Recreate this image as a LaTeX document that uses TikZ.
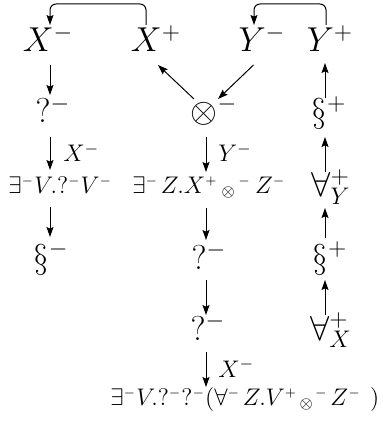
\documentclass[tikz,border=0pt]{standalone}
\usetikzlibrary{arrows.meta,calc}
\newcommand\ssup[1]{^{\scriptscriptstyle #1}}
\newcommand\osub{{}_{\otimes}{}}
\begin{document}
\begin{tikzpicture}[x=0.5pt,y=-0.5pt,
  big/.style={inner sep=0pt, anchor=base, font=\LARGE},
  sml/.style={inner sep=0pt, anchor=base west, font=\large},
  lab/.style={inner sep=0pt, anchor=base west, font=\large},
  arr/.style={-{Stealth[length=5pt,width=3.5pt,inset=0.8pt]}, line width=0.5pt}]
\useasboundingbox (0,0) rectangle (383,422);
\coordinate (cL) at (50,0);
\coordinate (cM) at (206,0);
\coordinate (cR) at (325,0);
% top row
\node[big] (xm) at (48,52) {$X^{-}$};
\node[big] (xp) at (156,52) {$X^{+}$};
\node[big] (ym) at (262,52) {$Y^{-}$};
\node[big] (yp) at (330,52) {$Y^{+}$};
% row 2
\node[big] (q1) at (53,123) {$?^{-}$};
\node[big] (ot) at (214,123) {$\otimes^{-}$};
\node[big] (s1) at (329,123) {$\S^{+}$};
% row 3
\node[sml] (f1) at (8,193) {$\exists\ssup{-}V\mkern-2mu.?\ssup{-}V\ssup{-}$};
\node[sml] (f2) at (132,193) {$\exists\ssup{-}\mkern2mu Z.X\ssup{+}\mkern3mu\osub\mkern2mu\ssup{-}\mkern3mu Z\ssup{-}$};
\node[big] (a1) at (331,197) {$\forall^{+}_{Y}$};
% row 4
\node[big] (s2) at (51,268) {$\S^{-}$};
\node[big] (q2) at (209,269) {$?^{-}$};
\node[big] (s3) at (330,268) {$\S^{+}$};
% row 5
\node[big] (q3) at (208,340) {$?^{-}$};
\node[big] (a2) at (331,340) {$\forall^{+}_{X}$};
% bottom
\node[sml] (f3) at (110,405) {$\exists\ssup{-}V.?\ssup{-}?\ssup{-}(\forall\ssup{-}\mkern2mu Z.V\ssup{+}\mkern2mu\osub\mkern1mu\ssup{-}\mkern2mu Z\ssup{-}\mkern7mu)$};
% labels
\node[lab] (l1) at (63,162) {$X^{-}$};
\node[lab] (l2) at (218,162) {$Y^{-}$};
\node[lab] (l3) at (218,377) {$X^{-}$};
% left column
\draw[arr] ($(xm.base-|cL)+(0,13)$) -- ($(q1.base-|cL)+(0,-28)$);
\draw[arr] ($(q1.base-|cL)+(0,14)$) -- ($(f1.base-|cL)+(0,-23)$);
\draw[arr] ($(f1.base-|cL)+(0,14)$) -- ($(s2.base-|cL)+(0,-31)$);
% middle column
\draw[arr] ($(ot.base-|cM)+(0,14)$) -- ($(f2.base-|cM)+(0,-21)$);
\draw[arr] ($(f2.base-|cM)+(0,15)$) -- ($(q2.base-|cM)+(0,-29)$);
\draw[arr] ($(q2.base-|cM)+(0,11)$) -- ($(q3.base-|cM)+(0,-25)$);
\draw[arr] ($(q3.base-|cM)+(0,12)$) -- ($(f3.base-|cM)+(0,-18)$);
% right column
\draw[arr] ($(s1.base-|cR)+(0,-25)$) -- ($(yp.base-|cR)+(0,11)$);
\draw[arr] ($(a1.base-|cR)+(0,-25)$) -- ($(s1.base-|cR)+(0,14)$);
\draw[arr] ($(s3.base-|cR)+(0,-30)$) -- ($(a1.base-|cR)+(0,11)$);
\draw[arr] ($(a2.base-|cR)+(0,-25)$) -- ($(s3.base-|cR)+(0,12)$);
% diagonals
\draw[arr] ($(ot.base)+(-20,-24)$) -- ($(xp.base)+(2,13)$);
\draw[arr] ($(ym.base)+(-8.5,13)$) -- ($(ot.base)+(4,-24)$);
% top loops
\draw[arr, rounded corners=3pt] ($(xp.base)+(-10,-27)$) |- ($(xm.base)+(2,-48)$) -- ($(xm.base)+(2,-27)$);
\draw[arr, rounded corners=3pt] ($(yp.base)+(-4,-27)$) |- ($(ym.base)+(-8,-48)$) -- ($(ym.base)+(-8,-27)$);
\end{tikzpicture}
\end{document}
